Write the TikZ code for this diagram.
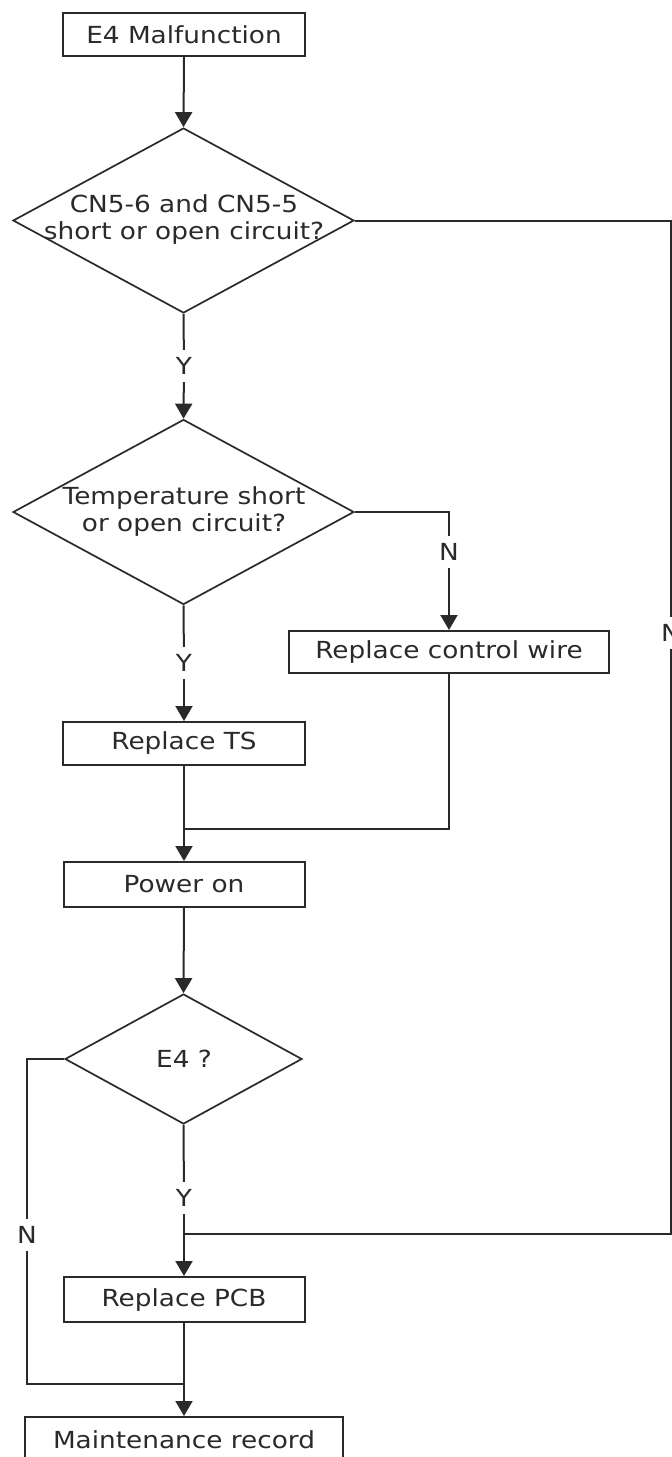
\documentclass[tikz,border=0pt]{standalone}
\usepackage{fontspec}
\setmainfont{DejaVu Sans}[FakeStretch=1.12]
\usetikzlibrary{shapes.geometric,arrows.meta}
\definecolor{ink}{HTML}{2A2A2A}
\begin{document}
\begin{tikzpicture}[x=1pt,y=-1pt,
  every node/.style={font=\fontsize{23.5}{27}\selectfont, text=ink},
  box/.style={draw=ink, line width=2pt, rectangle, inner sep=0pt, minimum height=43pt},
  dia/.style={draw=ink, line width=1.7pt, diamond, inner sep=0pt},
  lbl/.style={fill=white, inner sep=0pt, minimum height=32pt, minimum width=20pt},
  arr/.style={draw=ink, line width=2pt, -{Triangle[width=17pt,length=15pt]}},
  ln/.style={draw=ink, line width=2pt}]
\useasboundingbox (0,0) rectangle (672,1457);
\fill[white] (0,0) rectangle (672,1457);

% nodes
\node[box, minimum width=242pt] (s) at (184,34.5) {E4 Malfunction};
\node[dia, minimum width=341pt, minimum height=185pt] (d1) at (183.5,220.5) {};
\node[align=center] (d1t) at (184,220) {CN5-6 and CN5-5\\short or open circuit?};
\node[dia, minimum width=341pt, minimum height=185pt] (d2) at (183.5,512) {};
\node[align=center] (d2t) at (184,512) {Temperature short\\or open circuit?};
\node[box, minimum width=320pt, minimum height=42pt] (cw) at (449,652) {Replace control wire};
\node[box, minimum width=242pt] (ts) at (184,743.5) {Replace TS};
\node[box, minimum width=241pt, minimum height=45pt] (po) at (184,884.5) {Power on};
\node[dia, minimum width=237pt, minimum height=130pt] (d3) at (183.5,1059) {};
\node (d3t) at (184,1059) {E4 ?};
\node[box, minimum width=241pt, minimum height=45pt] (pcb) at (184,1299.5) {Replace PCB};
\node[box, minimum width=318pt, minimum height=46pt] (mr) at (184,1440) {Maintenance record};

% labels
\node[lbl] (y1) at (184,366) {Y};
\node[lbl] (y2) at (184,663) {Y};
\node[lbl] (n2) at (449,552) {N};
\node[lbl] (y3) at (184,1198) {Y};
\node[lbl] (n3) at (27,1235) {N};
\node[lbl] (n1) at (671,633) {N};

% junction coordinates
\coordinate (j1) at (184,1234);
\coordinate (j2) at (184,829);
\coordinate (j3) at (184,1384);

% connectors
\draw[arr] (s.south) -- (d1.north);
\draw[ln] (d1.south) -- (y1);
\draw[arr] (y1) -- (d2.north);
\draw[ln] (d2.south) -- (y2);
\draw[arr] (y2) -- (ts.north);
\draw[ln] (d2.east) -| (n2);
\draw[arr] (n2) -- (cw.north);
\draw[ln] (cw.south) |- (j2);
\draw[arr] (ts.south) -- (po.north);
\draw[arr] (po.south) -- (d3.north);
\draw[ln] (d3.south) -- (y3);
\draw[arr] (y3) -- (pcb.north);
\draw[ln] (d1.east) -| (n1);
\draw[ln] (n1) |- (j1);
\draw[ln] (d3.west) -| (n3);
\draw[ln] (n3) |- (j3);
\draw[arr] (pcb.south) -- (mr.north);
\end{tikzpicture}
\end{document}
